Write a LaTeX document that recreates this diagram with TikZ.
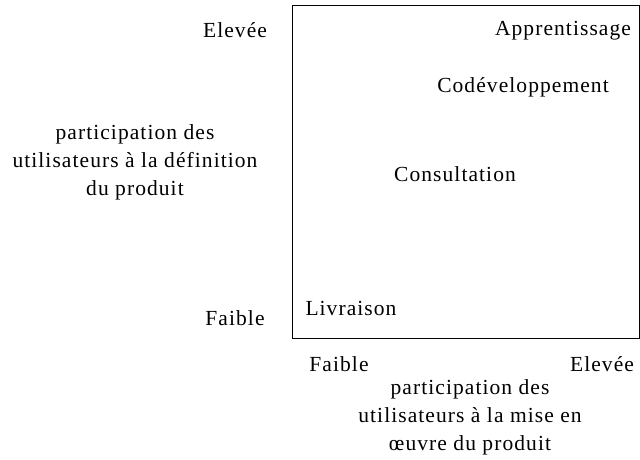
\documentclass[tikz,border=0pt]{standalone}
\usepackage{fontspec}
\setmainfont{Liberation Serif}[LetterSpace=5]
\begin{document}
\begin{tikzpicture}[x=1pt,y=-1pt,
  lbl/.style={inner sep=0pt,anchor=base,font=\fontsize{21.5}{27}\selectfont},
  mlbl/.style={inner sep=0pt,anchor=north,align=center,font=\fontsize{21.5}{28}\selectfont}]
\useasboundingbox (0,0) rectangle (640,459);
\draw[line width=1pt] (292,5) rectangle (639.5,338);
\node[lbl] (eh) at (235,37) {Elevée};
\node[lbl] (fl) at (235,325) {Faible};
\node[lbl] (app) at (563,35.5) {Apprentissage};
\node[lbl] (cod) at (523,92.5) {Codéveloppement};
\node[lbl] (con) at (455,181) {Consultation};
\node[lbl] (liv) at (351,315.5) {Livraison};
\node[lbl] (fb) at (339,371.5) {Faible};
\node[lbl] (eb) at (602,371.5) {Elevée};
\node[mlbl] (yl) at (135,124) {participation des\\utilisateurs à la définition\\du produit};
\node[mlbl] (xl) at (470,379) {participation des\\utilisateurs à la mise en\\œuvre du produit};
\end{tikzpicture}
\end{document}
